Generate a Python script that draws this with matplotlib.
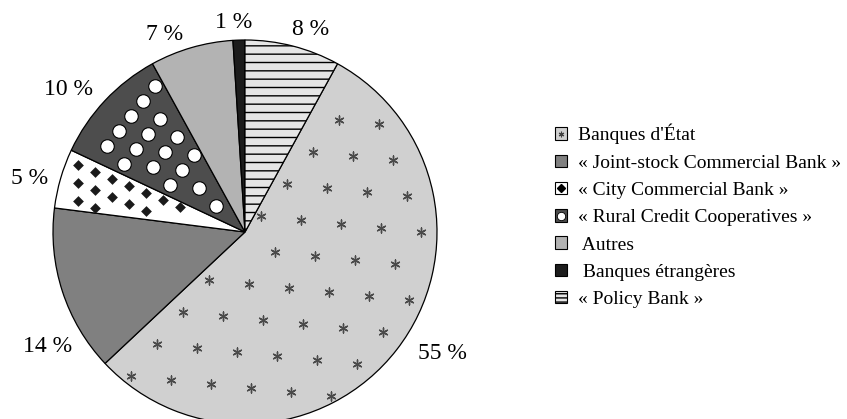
import numpy as np
import matplotlib.pyplot as plt
from matplotlib.patches import Patch
from matplotlib.lines import Line2D

plt.rcParams['font.family'] = ['Liberation Serif', 'DejaVu Serif']

# parts (en %) dans l'ordre de la légende
categories = ["Banques d'État", "« Joint-stock Commercial Bank »",
              "« City Commercial Bank »", "« Rural Credit Cooperatives »",
              " Autres", " Banques étrangères", "« Policy Bank »"]
shares = [55, 14, 5, 10, 7, 1, 8]

fills = ['#d0d0d0', '#808080', '#ffffff', '#4d4d4d', '#b3b3b3', '#1c1c1c', '#e6e6e6']

# position of each percentage label, in pie radii from the centre
label_xy = [(1.026, -0.635), (-1.026, -0.594), (-1.120, 0.281), (-0.917, 0.740),
            (-0.417, 1.031), (-0.057, 1.089), (0.344, 1.057)]

W, H = 847, 419
cx, cy, R = 245, 232, 192

fig = plt.figure(figsize=(W / 100, H / 100), dpi=100)
ax = fig.add_axes([(cx - R) / W, (H - cy - R) / H, 2 * R / W, 2 * R / H])

# last slice ("Policy Bank") ends at 12 o'clock
start = 90 - shares[-1] * 3.6
wedges, _ = ax.pie(shares, colors=fills, startangle=start, counterclock=False,
                   radius=1, frame=False,
                   wedgeprops=dict(edgecolor='black', linewidth=0.9))
ax.set_xlim(-1, 1)
ax.set_ylim(-1, 1)
ax.axis('off')
wedges[6].set_hatch('--')


def inside(x, y, w, m):
    r = np.hypot(x, y)
    a = np.degrees(np.arctan2(y, x))
    span = (w.theta2 - w.theta1) % 360 or 360
    d1 = (a - w.theta1) % 360
    d2 = span - d1
    e1 = np.where(d1 < 90, r * np.sin(np.radians(d1)), r)
    e2 = np.where(d2 < 90, r * np.sin(np.radians(d2)), r)
    return (d1 < span) & (r < w.r - m) & (e1 > m) & (e2 > m)


def pattern(w, u, v, origin, margin, **kw):
    # lattice of markers (u, v, origin in pixels) kept inside the wedge
    u = np.array(u) / R
    v = np.array(v) / R
    o = np.array(origin) / R
    i, j = np.meshgrid(np.arange(-40, 41), np.arange(-40, 41))
    pts = o + i.ravel()[:, None] * u + j.ravel()[:, None] * v
    keep = inside(pts[:, 0], pts[:, 1], w, margin / R)
    sc = ax.scatter(pts[keep, 0], pts[keep, 1], **kw)
    sc.set_clip_path(w)


pattern(wedges[0], (40, -4), (-14, 36), (30, -20), 6,
        marker=(6, 2, 0), s=42, color='#4a4a4a', linewidths=1.0)
pattern(wedges[2], (17, -7), (0, -18), (-150, 60), 5,
        marker='D', s=30, color='#1a1a1a', linewidths=0)
pattern(wedges[3], (29, -3), (-17, 18), (-80, 80), 7.5,
        marker='o', s=95, facecolor='white', edgecolor='black', linewidths=0.8)

for v, (lx, ly) in zip(shares, label_xy):
    ax.text(lx, ly, f'{v} %', fontsize=17, ha='center', va='center', clip_on=False)

handles = [
    (Patch(facecolor=fills[0], edgecolor='black', linewidth=0.8),
     Line2D([], [], marker=(6, 2, 0), ls='none', ms=4, color='#404040', mew=0.8)),
    Patch(facecolor=fills[1], edgecolor='black', linewidth=0.8),
    (Patch(facecolor=fills[2], edgecolor='black', linewidth=0.8),
     Line2D([], [], marker='D', ls='none', ms=4, color='black')),
    (Patch(facecolor=fills[3], edgecolor='black', linewidth=0.8),
     Line2D([], [], marker='o', ls='none', ms=6, mfc='white', mec='black', mew=0.6)),
    Patch(facecolor=fills[4], edgecolor='black', linewidth=0.8),
    Patch(facecolor=fills[5], edgecolor='black', linewidth=0.8),
    Patch(facecolor=fills[6], edgecolor='black', linewidth=0.8, hatch='----'),
]
fig.legend(handles, categories, loc='upper left',
           bbox_to_anchor=(555 / W, 1 - 124 / H), frameon=False, fontsize=14,
           handlelength=0.62, handleheight=0.62, handletextpad=0.55,
           labelspacing=0.52, borderaxespad=0, borderpad=0)

fig.savefig('out.png', dpi=100)
